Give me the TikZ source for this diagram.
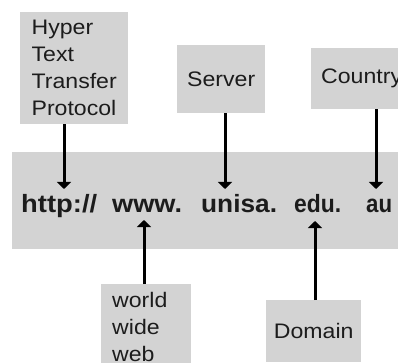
\documentclass[tikz,border=0pt]{standalone}
\usepackage{graphicx}
\usepackage{fontspec}
\usetikzlibrary{arrows.meta}
\newfontfamily\lblfam[FakeStretch=1.1]{Liberation Sans}
\newfontfamily\urlfam{Liberation Sans}
\definecolor{boxgray}{RGB}{211,211,211}
\definecolor{txt}{RGB}{28,28,28}
\tikzset{
  boxst/.style={fill=boxgray, draw=none, inner sep=0pt, anchor=north west,
    text=txt, font=\lblfam\fontsize{21}{27}\selectfont},
  urlst/.style={inner sep=0pt, anchor=base west, text=txt,
    font=\urlfam\bfseries\fontsize{25}{30}\selectfont},
  arr/.style={line width=3pt, draw=black, -{Triangle[width=14pt,length=7pt]}}
}
\begin{document}
\begin{tikzpicture}[x=1pt,y=-1pt]
\useasboundingbox (0,0) rectangle (398,363);
\clip (0,0) rectangle (398,363);
% band
\node[fill=boxgray, inner sep=0pt, anchor=north west, minimum width=410pt, minimum height=97pt] (band) at (12,152) {};
% label boxes
\node[boxst, minimum width=108pt, minimum height=112pt, align=left] (hbox) at (20,12) {Hyper\\Text\\Transfer\\Protocol};
\node[boxst, minimum width=88pt, minimum height=68pt] (sbox) at (177,45) {Server};
\node[boxst, minimum height=61pt, inner xsep=10pt] (cbox) at (311,48) {Country};
\node[boxst, inner xsep=11pt, inner ysep=8pt, text width=68pt, align=left] (wbox) at (101,284) {world\\wide\\web};
\node[boxst, minimum width=95pt, minimum height=62pt] (dbox) at (266,300) {Domain};
% url words
\node[urlst] (uhttp) at (21,212.5) {\scalebox{1.095}[1]{http://}};
\node[urlst] (uwww) at (112,212.5) {\scalebox{1.087}[1]{www.}};
\node[urlst] (uunisa) at (201,212.5) {\scalebox{1.05}[1]{unisa.}};
\node[urlst] (uedu) at (294,212.5) {\scalebox{0.915}[1]{edu.}};
\node[urlst] (uau) at (366,212.5) {\scalebox{0.89}[1]{au}};
% arrow ends
\coordinate (tH) at (64,189);
\coordinate (tS) at (225,189);
\coordinate (tC) at (376,189);
\coordinate (tW) at (144,220);
\coordinate (tD) at (315,221);
\draw[arr] (hbox.south -| tH) -- (tH);
\draw[arr] (sbox.south -| tS) -- (tS);
\draw[arr] (cbox.south -| tC) -- (tC);
\draw[arr] (wbox.north -| tW) -- (tW);
\draw[arr] (dbox.north -| tD) -- (tD);
\end{tikzpicture}
\end{document}
